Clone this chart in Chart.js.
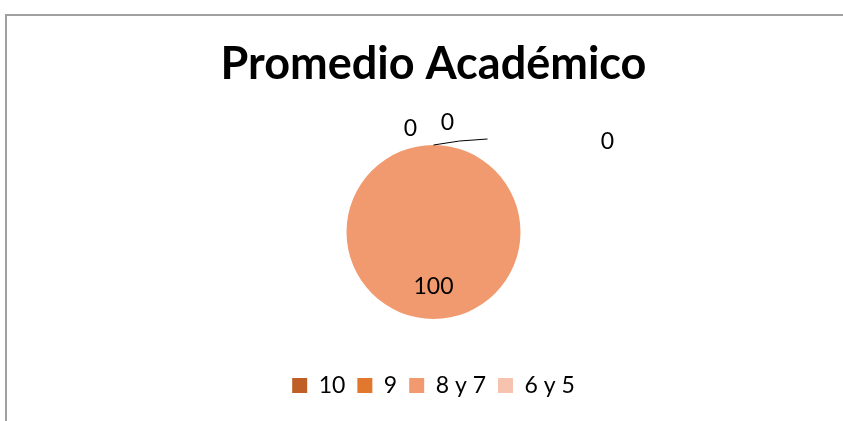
<!DOCTYPE html>
<html>
<head>
<meta charset="utf-8">
<script src="https://cdn.jsdelivr.net/npm/chart.js@4.4.1/dist/chart.umd.min.js"></script>
<style>
  html, body { margin: 0; padding: 0; background: #fff; overflow: hidden; width: 843px; height: 421px; }
  .frame {
    position: absolute; left: 5px; top: 14px; width: 855px; height: 420px;
    border-top: 2px solid #a0a0a0; border-left: 2px solid #a0a0a0;
    box-sizing: border-box;
  }
  .frame canvas { position: absolute; left: 0; top: 0; }
</style>
</head>
<body>
<div class="frame">
  <canvas id="myChart" width="853" height="405"></canvas>
</div>
<script>
const categories = ['10', '9', '8 y 7', '6 y 5'];
const values = [0, 0, 100, 0];
const sliceColors = ['#BF5E26', '#E2772E', '#F19A70', '#F6C3AF'];

const labelFont = '23px Lato, "Open Sans", sans-serif';

// where Excel put the data labels, relative to the pie centre
const labelOffsets = [
  { dx: -23, dy: -103 },
  { dx: 14, dy: -109 },
  null,
  { dx: 174, dy: -90 }
];

const pieLabels = {
  id: 'pieLabels',
  afterDatasetsDraw(chart) {
    const ctx = chart.ctx;
    const meta = chart.getDatasetMeta(0);
    ctx.save();
    ctx.font = labelFont;
    ctx.fillStyle = '#000';
    ctx.textAlign = 'center';
    ctx.textBaseline = 'middle';
    meta.data.forEach((arc, i) => {
      const r = arc.outerRadius;
      let x, y;
      if (labelOffsets[i]) {
        x = arc.x + labelOffsets[i].dx;
        y = arc.y + labelOffsets[i].dy;
      } else {
        const mid = (arc.startAngle + arc.endAngle) / 2;
        x = arc.x + Math.cos(mid) * r * 0.63;
        y = arc.y + Math.sin(mid) * r * 0.63;
      }
      ctx.fillText(String(values[i]), x, y);
    });
    // leader line for the zero slice at the top
    const a = meta.data[0];
    ctx.strokeStyle = '#000';
    ctx.lineWidth = 1;
    ctx.beginPath();
    ctx.moveTo(a.x, a.y - a.outerRadius);
    ctx.quadraticCurveTo(a.x + 25, a.y - a.outerRadius - 5, a.x + 54, a.y - a.outerRadius - 6);
    ctx.stroke();
    ctx.restore();
  }
};

new Chart(document.getElementById('myChart'), {
  type: 'pie',
  data: {
    labels: categories,
    datasets: [{
      data: values,
      backgroundColor: sliceColors,
      borderWidth: 0,
      radius: 87
    }]
  },
  options: {
    responsive: false,
    animation: false,
    layout: { padding: { top: 0, bottom: 14 } },
    plugins: {
      tooltip: { enabled: false },
      title: {
        display: true,
        text: 'Promedio Académico',
        color: '#000',
        font: { family: 'Lato, "Open Sans", sans-serif', size: 45, weight: 'bold' },
        padding: { top: 21, bottom: 11 }
      },
      legend: {
        position: 'bottom',
        labels: {
          color: '#000',
          boxWidth: 15,
          boxHeight: 15,
          padding: 12,
          font: { family: 'Lato, "Open Sans", sans-serif', size: 23 }
        }
      }
    }
  },
  plugins: [pieLabels]
});
</script>
</body>
</html>
